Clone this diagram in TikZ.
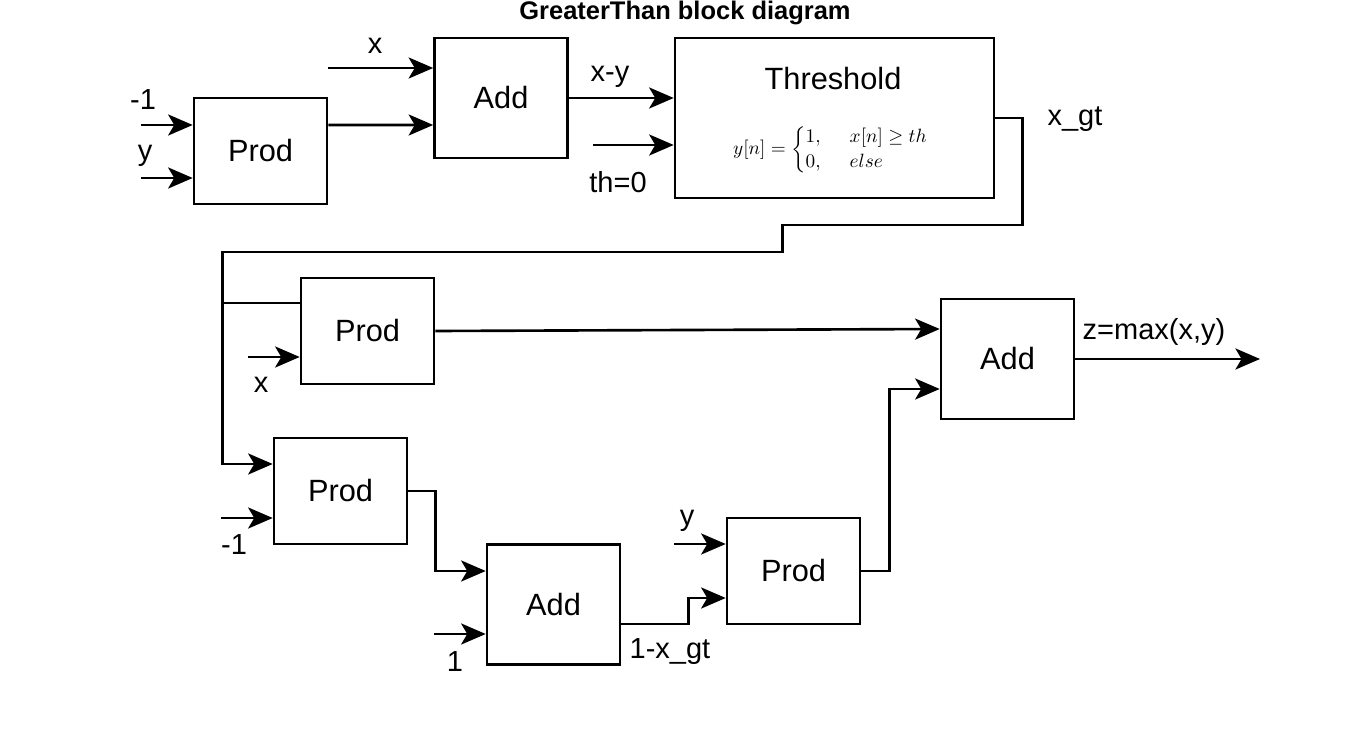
\documentclass[tikz,border=0pt]{standalone}
\usepackage{fontspec}
\setmainfont{Liberation Sans}
\usepackage{amsmath}
\usetikzlibrary{positioning, arrows.meta}

\begin{document}
\begin{tikzpicture}[x=0.02cm,y=-0.02cm,
  block/.style={draw,line width=1.5pt,minimum width=2.66cm,minimum height=2.12cm,
    inner sep=0pt,font=\fontsize{17.5}{20}\selectfont},
  addblock/.style={block,minimum height=2.4cm},
  arr/.style={line width=1.5pt,-{Stealth[length=14pt,width=12pt,inset=3.5pt]}},
  wire/.style={line width=1.5pt},
  lbl/.style={font=\fontsize{16.5}{19}\selectfont,inner sep=0pt}]
  \useasboundingbox (0,0) rectangle (1372,749);

  % title
  \node[font=\fontsize{14.5}{17}\selectfont\bfseries,inner sep=0pt] (title) at (685,13) {GreaterThan block diagram};

  % blocks
  \node[block] (prodA) at (260.5,151) {Prod};
  \node[addblock] (addA) at (501,98) {Add};
  \node[draw,line width=1.5pt,minimum width=6.38cm,minimum height=3.2cm] (thr) at (834.5,118) {};
  \node[font=\fontsize{17.5}{20}\selectfont,inner sep=0pt] (thrName) at (833,79) {Threshold};
  \node[font=\fontsize{10.5}{12}\selectfont,inner sep=0pt] (thrRule) at (831,150)
    {$y[n] = \begin{cases}1, & \;\;x[n]\ge th\\ 0, & \;\;else\end{cases}$};
  \node[block] (prodB) at (367.5,331) {Prod};
  \node[block] (prodC) at (340.5,491) {Prod};
  \node[addblock] (addB) at (553.5,604.5) {Add};
  \node[block] (prodD) at (793.5,571) {Prod};
  \node[addblock] (addC) at (1007.5,359) {Add};

  % free ends
  \coordinate (inA) at (141,125);
  \coordinate (inB) at (141,178);
  \coordinate (inX) at (328,68);
  \coordinate (inTh) at (593,145);
  \coordinate (brA) at (221,303);
  \coordinate (inXb) at (248,357);
  \coordinate (inM) at (221,518);
  \coordinate (inOne) at (434,634);
  \coordinate (inY) at (674,544);
  \coordinate (outZ) at (1260,359);

  % labels
  \node[lbl] (lM1) at (143,100) {-1};
  \node[lbl] (lY) at (145,156) {y};
  \node[lbl] (lX) at (375,46) {x};
  \node[lbl] (lXY) at (610,77) {x-y};
  \node[lbl] (lTh) at (618,182) {th=0};
  \node[lbl] (lGt) at (1075,119) {x\_gt};
  \node[lbl] (lXb) at (261,385) {x};
  \node[lbl] (lM1b) at (234,545) {-1};
  \node[lbl] (lOne) at (455,662) {1};
  \node[lbl] (lInv) at (670,652) {1-x\_gt};
  \node[lbl] (lYb) at (687,521) {y};
  \node[lbl] (lZ) at (1154,332) {z=max(x,y)};

  % connectors
  \draw[arr] (inA) -- (inA -| prodA.west);
  \draw[arr] (inB) -- (inB -| prodA.west);
  \draw[arr] (inX) -- (inX -| addA.west);
  \draw[arr] ([yshift=0.52cm]prodA.east) -- ([yshift=-0.54cm]addA.west);
  \draw[arr] (addA.east) -- (addA.east -| thr.west);
  \draw[arr] (inTh) -- (inTh -| thr.west);
  \draw[arr] (thr.east) -- ++(27,0) -- ++(0,107) -- ++(-240,0) -- ++(0,27)
    -- ++(-560,0) |- ([yshift=0.54cm]prodC.west);
  \draw[wire] (brA) -- (brA -| prodB.west);
  \draw[arr] (inXb) -- (inXb -| prodB.west);
  \draw[arr] (prodB.east) -- ([yshift=0.6cm]addC.west);
  \draw[arr] (inM) -- (inM -| prodC.west);
  \draw[arr] (prodC.east) -- ++(27,0) |- ([yshift=0.67cm]addB.west);
  \draw[arr] (inOne) -- (inOne -| addB.west);
  \draw[arr] ([yshift=-0.39cm]addB.east) -- ++(67,0) |- ([yshift=-0.54cm]prodD.west);
  \draw[arr] (inY) -- (inY -| prodD.west);
  \draw[arr] (prodD.east) -- ++(28,0) |- ([yshift=-0.6cm]addC.west);
  \draw[arr] (addC.east) -- (outZ);
\end{tikzpicture}
\end{document}
